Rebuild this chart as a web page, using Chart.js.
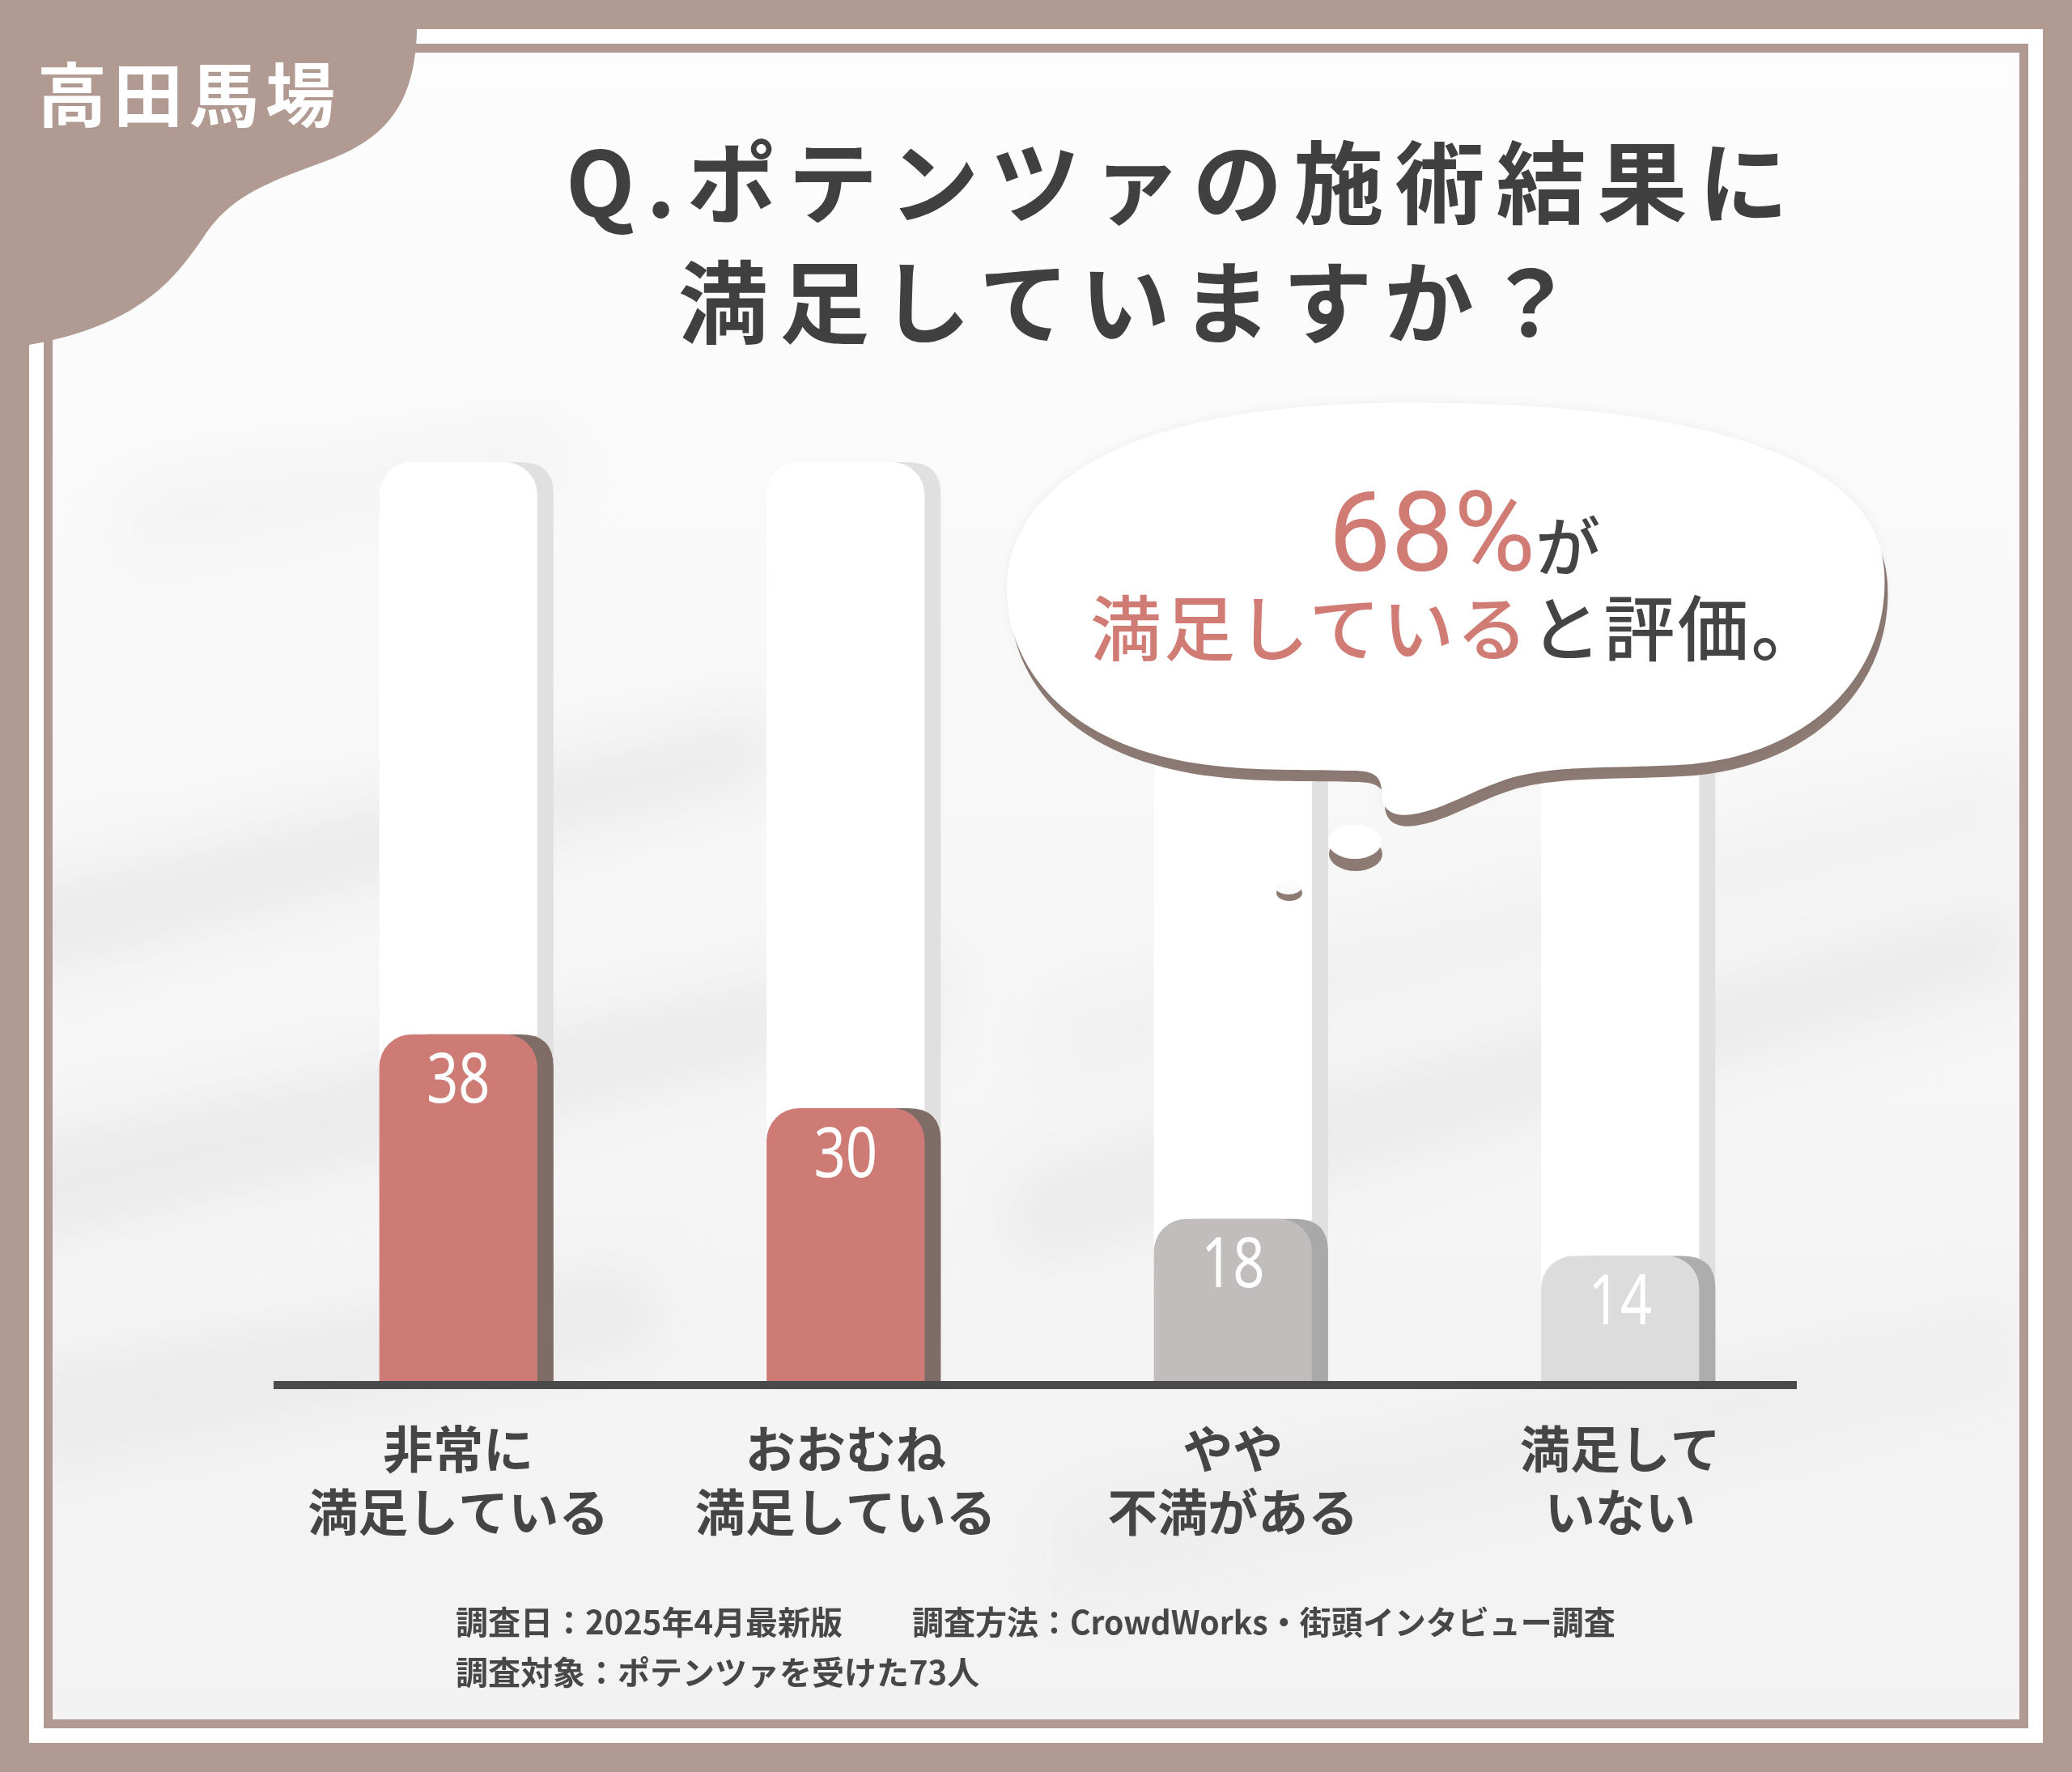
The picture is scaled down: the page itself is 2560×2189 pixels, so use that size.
<!DOCTYPE html>
<html lang="ja">
<head>
<meta charset="utf-8">
<script src="https://cdn.jsdelivr.net/npm/chart.js@4.4.1/dist/chart.umd.min.js"></script>
<style>
  html,body{margin:0;padding:0}
  body{width:2560px;height:2189px;position:relative;overflow:hidden;background:#b09a91;
       font-family:"Noto Sans CJK JP","Noto Sans",sans-serif}
  .abs{position:absolute;white-space:nowrap}
  #frame{left:36px;top:36px;width:2488px;height:2117px;background:#ffffff}
  #bg{left:65px;top:65px}
  #innerBorder{left:54px;top:54px;width:2452px;height:2081px;border:11px solid #b09a91;box-sizing:border-box}
  #chart{left:0;top:0}
  #deco{left:0;top:0}
  .badge{left:46px;top:70px;font-size:86px;line-height:86px;font-weight:700;color:#ffffff;letter-spacing:8px}
  .title{font-size:111px;line-height:111px;font-weight:700;color:#404040;letter-spacing:14px}
  .foot{font-size:40px;line-height:40px;font-weight:700;color:#474747}
  .pink{color:#d07b74}
  .dark{color:#444444}
  .big{font-family:Roboto,"Noto Sans",sans-serif;font-size:138px;line-height:138px;font-weight:400}
  .ga{font-size:80px;font-weight:500}
  .line2{font-size:88px;line-height:88px;font-weight:500;letter-spacing:3px}
</style>
</head>
<body>
<div id="frame" class="abs"></div>
<canvas id="bg" class="abs" width="2430" height="2059"></canvas>
<div id="innerBorder" class="abs"></div>
<canvas id="chart" class="abs" width="2560" height="2189"></canvas>

<svg id="deco" class="abs" width="2560" height="2189" viewBox="0 0 2560 2189" xmlns="http://www.w3.org/2000/svg">
  <defs>
    <filter id="soft" x="-10%" y="-10%" width="120%" height="120%">
      <feDropShadow dx="0" dy="0" stdDeviation="6" flood-color="#000000" flood-opacity="0.05"/>
    </filter>
  </defs>
  <!-- corner badge -->
  <path d="M0,0 H515 V40 C512,128 478,172 400,200 C322,228 282,246 252,292 C214,348 170,402 36,426 L0,432 Z" fill="#b09a91"/>
  <!-- speech bubble -->
  <g>
    <path transform="translate(4,14)" fill="#8c7a73"
      d="M1244,722 C1250,596 1395,502 1710,498 C2060,494 2318,552 2328,705 C2336,830 2240,930 2090,944 C2000,950 1930,944 1870,960 C1820,975 1785,1000 1745,1006 C1718,1010 1707,998 1707,980 C1707,960 1700,952 1670,952 C1600,950 1500,955 1420,930 C1310,898 1242,820 1244,722 Z"/>
    <path fill="#ffffff" filter="url(#soft)"
      d="M1244,722 C1250,596 1395,502 1710,498 C2060,494 2318,552 2328,705 C2336,830 2240,930 2090,944 C2000,950 1930,944 1870,960 C1820,975 1785,1000 1745,1006 C1718,1010 1707,998 1707,980 C1707,960 1700,952 1670,952 C1600,950 1500,955 1420,930 C1310,898 1242,820 1244,722 Z"/>
    <ellipse cx="1675" cy="1055" rx="33" ry="21" fill="#8c7a73"/>
    <ellipse cx="1674" cy="1040" rx="33" ry="21" fill="#ffffff"/>
    <ellipse cx="1593" cy="1103" rx="16" ry="10" fill="#8c7a73"/>
    <ellipse cx="1592" cy="1096" rx="16" ry="9" fill="#fbfbfb"/>
  </g>
</svg>

<div class="abs badge">高田馬場</div>
<div class="abs title" style="left:699px;top:164px">Q.ポテンツァの施術結果に</div>
<div class="abs title" style="left:838px;top:312px">満足していますか？</div>

<div class="abs" style="left:1641px;top:589px;line-height:138px"><span class="big pink" id="share"></span><span class="ga dark">が</span></div>
<div class="abs line2" style="left:1347px;top:727px"><span class="pink">満足している</span><span class="dark">と評価。</span></div>

<div class="abs foot" style="left:563px;top:1982px">調査日：2025年4月最新版</div>
<div class="abs foot" style="left:1127px;top:1982px;transform:scaleX(0.975);transform-origin:0 0">調査方法：CrowdWorks・街頭インタビュー調査</div>
<div class="abs foot" style="left:563px;top:2044px">調査対象：ポテンツァを受けた73人</div>

<script>
// ---------------- data ----------------
const categories = [
  ['非常に', '満足している'],
  ['おおむね', '満足している'],
  ['やや', '不満がある'],
  ['満足して', 'いない']
];
const values = [38, 30, 18, 14];
const trackValues = [100, 100, 100, 100];

// ---------------- styles ----------------
const barColors    = ['#cf7b75', '#cf7b75', '#c0bdbc', '#dcdcdc'];
const shadowColors = ['#7f6c67', '#7f6c67', '#a9a9a9', '#adadad'];
const trackColor = '#ffffff';
const trackShadow = '#e0e0e0';
const SHADOW_DX = 20;
const RADIUS = 40;
const AXIS_INSET_L = 11, AXIS_INSET_R = 21, AXIS_W = 10, AXIS_COLOR = '#4a4a4a';

document.getElementById('share').textContent = (values[0] + values[1]) + '%';

// ---------------- background streaks ----------------
(function(){
  const c = document.getElementById('bg');
  const g = c.getContext('2d');
  const W = c.width, H = c.height;
  const grad = g.createLinearGradient(0, 0, 0, H);
  grad.addColorStop(0, '#fdfdfd');
  grad.addColorStop(0.3, '#f9f9f9');
  grad.addColorStop(1, '#f2f2f2');
  g.fillStyle = grad;
  g.fillRect(0, 0, W, H);
  const o = 65;
  g.filter = 'blur(38px)';
  function band(pts, col){
    g.fillStyle = col;
    g.beginPath();
    g.moveTo(pts[0][0]-o, pts[0][1]-o);
    for (let i = 1; i < pts.length; i++) g.lineTo(pts[i][0]-o, pts[i][1]-o);
    g.closePath();
    g.fill();
  }
  band([[0,1110],[950,880],[960,960],[0,1210]], 'rgba(222,222,222,0.55)');
  band([[0,1420],[1150,1170],[1160,1260],[0,1540]], 'rgba(224,224,224,0.55)');
  band([[0,1700],[800,1560],[820,1660],[0,1820]], 'rgba(226,226,226,0.5)');
  band([[1250,1450],[2500,1100],[2500,1210],[1250,1570]], 'rgba(226,226,226,0.5)');
  band([[1300,1250],[2500,950],[2500,1030],[1300,1340]], 'rgba(230,230,230,0.45)');
  band([[1300,1850],[2500,1600],[2500,1720],[1300,1980]], 'rgba(230,230,230,0.4)');
  band([[150,600],[700,520],[700,600],[150,700]], 'rgba(236,236,236,0.35)');
})();

// ---------------- plugins ----------------
function topRoundRect(ctx, x, y, w, h, r){
  r = Math.min(r, w/2, h);
  ctx.beginPath();
  ctx.moveTo(x, y + h);
  ctx.lineTo(x, y + r);
  ctx.quadraticCurveTo(x, y, x + r, y);
  ctx.lineTo(x + w - r, y);
  ctx.quadraticCurveTo(x + w, y, x + w, y + r);
  ctx.lineTo(x + w, y + h);
  ctx.closePath();
  ctx.fill();
}

const sideShadow = {
  id: 'sideShadow',
  beforeDatasetDraw(chart, args){
    const ctx = chart.ctx;
    const isTrack = args.index === 1;
    ctx.save();
    args.meta.data.forEach((el, i) => {
      const p = el.getProps(['x', 'y', 'base', 'width'], true);
      ctx.fillStyle = isTrack ? trackShadow : shadowColors[i];
      topRoundRect(ctx, p.x - p.width/2 + SHADOW_DX, p.y, p.width, p.base - p.y, RADIUS);
    });
    ctx.restore();
  }
};

const valueLabels = {
  id: 'valueLabels',
  afterDatasetsDraw(chart){
    const ctx = chart.ctx;
    const meta = chart.getDatasetMeta(0);
    ctx.save();
    ctx.fillStyle = '#ffffff';
    ctx.font = '400 86px "Noto Sans", Roboto, sans-serif';
    ctx.textAlign = 'center';
    ctx.textBaseline = 'middle';
    meta.data.forEach((el, i) => {
      ctx.save();
      ctx.translate(el.x, el.y + 60);
      ctx.scale(0.8, 1);
      ctx.fillText(String(values[i]), 0, 0);
      ctx.restore();
    });
    // baseline axis line, drawn over the bar bottoms
    const xs = chart.scales.x;
    const y0 = chart.scales.y.getPixelForValue(0);
    ctx.fillStyle = AXIS_COLOR;
    ctx.fillRect(xs.left + AXIS_INSET_L, y0 - AXIS_W/2, xs.right - xs.left - AXIS_INSET_L - AXIS_INSET_R, AXIS_W);
    ctx.restore();
  }
};

// ---------------- chart ----------------
new Chart(document.getElementById('chart'), {
  type: 'bar',
  data: {
    labels: categories,
    datasets: [
      {
        label: '回答数',
        data: values,
        backgroundColor: barColors,
        borderRadius: {topLeft: RADIUS, topRight: RADIUS, bottomLeft: 0, bottomRight: 0},
        borderSkipped: 'start',
        grouped: false,
        order: 1,
        categoryPercentage: 1.0,
        barPercentage: 0.408
      },
      {
        label: 'track',
        data: trackValues,
        backgroundColor: trackColor,
        borderRadius: {topLeft: RADIUS, topRight: RADIUS, bottomLeft: 0, bottomRight: 0},
        borderSkipped: 'start',
        grouped: false,
        order: 2,
        categoryPercentage: 1.0,
        barPercentage: 0.408
      }
    ]
  },
  options: {
    responsive: false,
    animation: false,
    devicePixelRatio: 1,
    layout: {padding: {left: 327, right: 319, top: 571, bottom: 228}},
    plugins: {legend: {display: false}, tooltip: {enabled: false}},
    scales: {
      x: {
        grid: {display: false, drawTicks: false},
        border: {display: false},
        ticks: {
          color: '#454545',
          padding: 40,
          maxRotation: 0,
          autoSkip: false,
          font: {family: '"Noto Sans CJK JP", sans-serif', size: 62, weight: 'bold', lineHeight: 1.26}
        },
        afterFit(scale){ scale.height = 250; }
      },
      y: {display: false, min: 0, max: 100}
    }
  },
  plugins: [sideShadow, valueLabels]
});
</script>
</body>
</html>
